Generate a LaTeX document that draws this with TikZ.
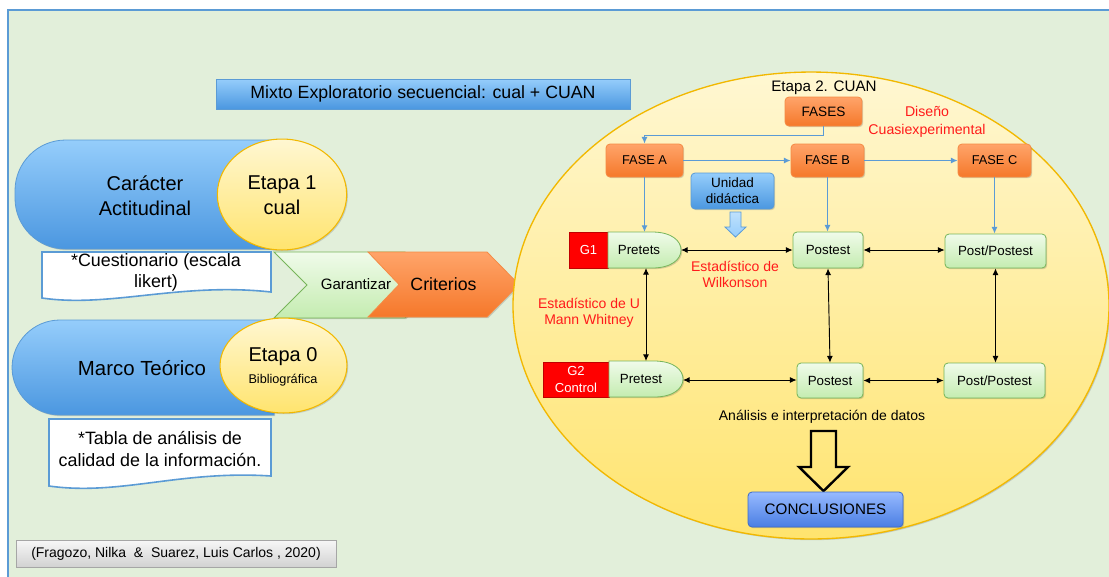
\documentclass[tikz,border=0pt]{standalone}
\usepackage{fontspec}
\setmainfont{Liberation Sans}
\usetikzlibrary{arrows.meta,shadows}
\definecolor{bgG}{HTML}{E2EFDA}
\definecolor{frameB}{HTML}{5B9BD5}
\definecolor{bTop}{HTML}{95CDFB}
\definecolor{bBot}{HTML}{4B97E0}
\definecolor{bBord}{HTML}{5B9BD5}
\definecolor{yTop}{HTML}{FFF7D2}
\definecolor{yBot}{HTML}{FFE46E}
\definecolor{yBord}{HTML}{F2B800}
\definecolor{oTop}{HTML}{FFA46A}
\definecolor{oBot}{HTML}{F5782A}
\definecolor{oBord}{HTML}{F58B45}
\definecolor{gTop}{HTML}{F0FBEA}
\definecolor{gBot}{HTML}{C4ECB0}
\definecolor{gBord}{HTML}{77B55A}
\definecolor{redG}{HTML}{FF0000}
\definecolor{redB}{HTML}{C00000}
\definecolor{cTop}{HTML}{97BAFF}
\definecolor{cBot}{HTML}{4A7EE3}
\definecolor{cBord}{HTML}{3E6CC8}
\definecolor{redT}{HTML}{FF1A1A}
\definecolor{grTop}{HTML}{F7F7F7}
\definecolor{grBot}{HTML}{D2D2D2}
\definecolor{grBord}{HTML}{A6A6A6}
\tikzset{
  softshadow/.style={drop shadow={shadow xshift=0.9pt, shadow yshift=-0.9pt, opacity=0.22, fill=black!70}},
  bluebox/.style={draw=bBord, line width=0.6pt, top color=bTop, bottom color=bBot, inner sep=0pt, softshadow},
  orangebox/.style={draw=oBord, line width=0.6pt, top color=oTop, bottom color=oBot, rounded corners=3pt, inner sep=0pt, font=\fontsize{9.6}{11}\selectfont, softshadow},
  greenbox/.style={draw=gBord, line width=0.6pt, top color=gTop, bottom color=gBot, rounded corners=3pt, inner sep=0pt, font=\fontsize{10}{12}\selectfont, softshadow},
  redbox/.style={draw=redB, line width=0.5pt, fill=redG, inner sep=0pt, text=white, align=center, font=\fontsize{9.8}{12.75}\selectfont, softshadow},
  yell/.style={draw=yBord, line width=0.8pt, top color=yTop, bottom color=yBot, softshadow},
  pill/.style={draw=bBord, line width=0.6pt, top color=bTop, bottom color=bBot, softshadow},
  docbox/.style={draw=frameB, line width=1.2pt, fill=white},
  redtext/.style={text=redT, align=center},
  barrow/.style={draw=frameB, line width=0.9pt, -{Latex[length=5pt,width=4.5pt]}},
  karrow/.style={draw=black, line width=0.7pt, {Latex[length=5pt,width=4.5pt]}-{Latex[length=5pt,width=4.5pt]}},
}
\begin{document}
\begin{tikzpicture}[x=0.75pt,y=-0.75pt]
\useasboundingbox (0,0) rectangle (1109,576);
\fill[white] (0,0) rectangle (1109,576);
% frame
\path[fill=bgG, draw=frameB, line width=1.2pt] (8,10) rectangle (1125,590);

% title
\node[bluebox, minimum width=310.5pt, minimum height=22.5pt, font=\fontsize{13.3}{15}\selectfont] (title) at (423,94) {Mixto Exploratorio secuencial: cual + CUAN};

% left pills
\path[pill] (274,140) [rounded corners=38pt] -- (15,140) -- (15,249) [sharp corners] -- (274,249) -- cycle;
\node[align=center, font=\fontsize{15}{18.75}\selectfont] (caracter) at (145,195.5) {Carácter\\Actitudinal};
\path[yell] (282,194.5) ellipse [x radius=48.5pt, y radius=41.6pt];
\node[align=center, font=\fontsize{15}{18.75}\selectfont] (etapa1) at (282,195.5) {Etapa 1\\cual};

% cuestionario document
\path[docbox] (42,252) -- (271,252) -- (271,292) .. controls (180,282) and (110,308) .. (42,298) -- cycle;
\node[align=center, font=\fontsize{13.4}{15.75}\selectfont] (cuest) at (156,272.5) {*Cuestionario (escala\\likert)};

% Garantizar / Criterios chevrons
\path[draw=gBord, line width=0.6pt, top color=gTop, bottom color=gBot, softshadow] (274,252) -- (405,252) -- (438,285) -- (405,318) -- (274,318) -- (307,285) -- cycle;
\node[font=\fontsize{11.3}{13}\selectfont] (garant) at (356,284) {Garantizar};
\path[draw=oBord, line width=0.6pt, top color=oTop, bottom color=oBot, softshadow] (368,252) -- (487,252) -- (519,284.5) -- (487,317) -- (368,317) -- (399,284.5) -- cycle;
\node[font=\fontsize{13.3}{15}\selectfont] (criterios) at (443.5,284) {Criterios};

% Marco teorico
\path[pill] (274,320) [rounded corners=36pt] -- (12,320) -- (12,415) [sharp corners] -- (274,415) -- cycle;
\node[font=\fontsize{15.3}{18}\selectfont] (marco) at (142,368) {Marco Teórico};
\path[yell] (283.5,365.5) ellipse [x radius=47.6pt, y radius=35.6pt];
\node[font=\fontsize{15}{18}\selectfont] (etapa0) at (283,357) {Etapa 0};
\node[font=\fontsize{9.5}{11}\selectfont] (biblio) at (283,380) {Bibliográfica};

% tabla document
\path[docbox] (49,419) -- (271,419) -- (271,476) .. controls (180,470) and (120,496) .. (49,486) -- cycle;
\node[align=center, font=\fontsize{13.4}{16.5}\selectfont] (tabla) at (160,449) {*Tabla de análisis de\\calidad de la información.};

% citation
\node[draw=grBord, line width=0.6pt, top color=grTop, bottom color=grBot, minimum width=240pt, minimum height=20.25pt, inner sep=0pt, font=\fontsize{10.5}{12}\selectfont, softshadow] (cita) at (176,553.5) {(Fragozo, Nilka\ \ \&\ \ Suarez, Luis Carlos , 2020)};

% big ellipse
\path[draw=yBord, line width=1pt, top color=yTop, bottom color=yBot, softshadow] (811,305.5) ellipse [x radius=223.5pt, y radius=175.1pt];

\node[font=\fontsize{11.4}{13}\selectfont] (etapa2) at (824,88) {Etapa 2. CUAN};
\node[orangebox, minimum width=57.75pt, minimum height=21.75pt, font=\fontsize{10.2}{12}\selectfont] (fases) at (823.5,111.5) {FASES};
\node[redtext, font=\fontsize{10.6}{13.5}\selectfont] (diseno) at (927,122) {Diseño\\Cuasiexperimental};

\node[orangebox, minimum width=57.75pt, minimum height=24.75pt] (faseA) at (644.5,160.5) {FASE A};
\node[orangebox, minimum width=54.75pt, minimum height=24.75pt] (faseB) at (827.5,160.5) {FASE B};
\node[orangebox, minimum width=54.75pt, minimum height=24.75pt] (faseC) at (994.5,160.5) {FASE C};

\node[bluebox, rounded corners=3pt, minimum width=62.25pt, minimum height=27pt, align=center, font=\fontsize{10.1}{12}\selectfont] (unidad) at (732.5,191) {Unidad\\didáctica};
\path[draw=frameB, line width=0.6pt, top color=bTop!60!white, bottom color=bTop] (730,212) -- (741,212) -- (741,227) -- (746,227) -- (735.5,237) -- (725,227) -- (730,227) -- cycle;

% row 1
\node[redbox, minimum width=29.25pt, minimum height=27pt] (g1) at (588.5,250) {G1};
\path[draw=gBord, line width=0.6pt, top color=gTop, bottom color=gBot, softshadow] (608,232) -- (652,232) .. controls (672,232) and (681,241) .. (681,250) .. controls (681,259) and (672,268) .. (652,268) -- (608,268) -- cycle;
\node[font=\fontsize{10}{12}\selectfont] (pre1) at (639,250) {Pretets};
\coordinate (pre1e) at (681,250);
\coordinate (pre1n) at (644.5,232);
\coordinate (pre1s) at (646,268);
\node[greenbox, minimum width=52.5pt, minimum height=27pt] (post1) at (828,250) {Postest};
\node[greenbox, minimum width=75.75pt, minimum height=25.5pt] (pp1) at (995.5,251) {Post/Postest};

% row 2
\node[redbox, minimum width=49.5pt, minimum height=26.5pt] (g2) at (576,379.5) {G2\\Control};
\path[draw=gBord, line width=0.6pt, top color=gTop, bottom color=gBot, softshadow] (609,361) -- (654,361) .. controls (674,361) and (683,370) .. (683,379) .. controls (683,388) and (674,397) .. (654,397) -- (609,397) -- cycle;
\node[font=\fontsize{10}{12}\selectfont] (pre2) at (641,379) {Pretest};
\coordinate (pre2e) at (683,380);
\coordinate (pre2n) at (646,361);
\node[greenbox, minimum width=49.5pt, minimum height=26.25pt] (post2) at (830,380.5) {Postest};
\node[greenbox, minimum width=75.75pt, minimum height=26.25pt] (pp2) at (994.5,380.5) {Post/Postest};

\node[redtext, font=\fontsize{10.5}{12}\selectfont] (wilk) at (735,274) {Estadístico de\\Wilkonson};
\node[redtext, font=\fontsize{10.5}{12}\selectfont] (mann) at (589,313) {Estadístico de U\\Mann Whitney};

\node[font=\fontsize{10.5}{12}\selectfont] (analisis) at (822,417) {Análisis e interpretación de datos};
\path[draw=black, line width=1.8pt, line join=miter] (811,431) -- (836,431) -- (836,467) -- (848,467) -- (823.5,491) -- (799,467) -- (811,467) -- cycle;
\node[draw=cBord, line width=0.6pt, top color=cTop, bottom color=cBot, rounded corners=3pt, minimum width=116.25pt, minimum height=26.25pt, inner sep=0pt, font=\fontsize{11.4}{13}\selectfont, softshadow] (concl) at (825.5,509.5) {CONCLUSIONES};

% blue connectors
\draw[barrow] (fases.south) -- ++(0,9) -| (faseA.north);
\draw[barrow] (faseA.east) -- (faseB.west);
\draw[barrow] (faseB.east) -- (faseC.west);
\draw[barrow] (faseA.south) -- (pre1n);
\draw[barrow] (faseB.south) -- (faseB.south |- post1.north);
\draw[barrow] (faseC.south) -- (faseC.south |- pp1.north);

% black connectors
\draw[karrow] (pre1e) -- (pre1e -| post1.west);
\draw[karrow] (post1.east) -- (post1.east -| pp1.west);
\draw[karrow] (pre2e) -- (pre2e -| post2.west);
\draw[karrow] (post2.east) -- (post2.east -| pp2.west);
\draw[karrow] (pre1s) -- (pre2n);
\draw[karrow] (post1.south) -- (post2.north);
\draw[karrow] (pp1.south) -- (pp1.south |- pp2.north);
\end{tikzpicture}
\end{document}
